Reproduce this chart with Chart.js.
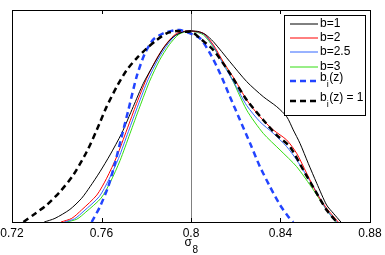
<!DOCTYPE html>
<html><head><meta charset="utf-8">
<script src="https://cdn.jsdelivr.net/npm/chart.js@4/dist/chart.umd.min.js"></script>
<style>html,body{margin:0;padding:0;background:#fff}#w{width:385px;height:255px}</style>
</head><body><div id="w"><canvas id="c"></canvas></div>
<script>
const xTicks = [0.72, 0.76, 0.80, 0.84, 0.88];
const xTitle = ['σ', '8'];
const seriesNames = ['b=1', 'b=2', 'b=2.5', 'b=3', 'b_i(z)', 'b_i(z) = 1'];

const b1X = [0.7344,0.7392,0.7459,0.7511,0.7549,0.7593,0.7638,0.7690,0.7742,0.7787,0.7832,0.7876,0.7921,0.7966,0.7990,0.8030,0.8063,0.8100,0.8174,0.8249,0.8323,0.8383,0.8428,0.8457,0.8487,0.8524,0.8562,0.8606,0.8636,0.8670];
const b1Y = [0,0.019,0.066,0.124,0.185,0.263,0.351,0.464,0.604,0.726,0.822,0.909,0.970,0.996,1.0,0.998,0.983,0.944,0.839,0.735,0.656,0.604,0.551,0.482,0.412,0.307,0.203,0.089,0.046,0];

const b2X = [0.7419,0.7467,0.7511,0.7579,0.7623,0.7668,0.7713,0.7757,0.7802,0.7847,0.7891,0.7936,0.7981,0.8003,0.8055,0.8100,0.8144,0.8197,0.8249,0.8308,0.8368,0.8428,0.8472,0.8517,0.8562,0.8606,0.8658];
const b2Y = [0,0.019,0.063,0.141,0.229,0.342,0.482,0.621,0.752,0.857,0.935,0.988,1.0,1.0,0.988,0.927,0.839,0.743,0.639,0.551,0.482,0.429,0.360,0.255,0.150,0.072,0];

const b25X = [0.7434,0.7480,0.7522,0.7590,0.7632,0.7676,0.7720,0.7764,0.7808,0.7853,0.7897,0.7941,0.7985,0.8005,0.8055,0.8100,0.8144,0.8197,0.8249,0.8308,0.8368,0.8428,0.8472,0.8547,0.8606,0.8651];
const b25Y = [0,0.017,0.058,0.133,0.220,0.333,0.473,0.613,0.745,0.852,0.932,0.986,1.0,1.0,0.985,0.920,0.826,0.720,0.610,0.525,0.464,0.394,0.325,0.185,0.063,0];

const b3X = [0.7444,0.7490,0.7530,0.7598,0.7640,0.7683,0.7727,0.7771,0.7815,0.7859,0.7903,0.7946,0.7990,0.8010,0.8055,0.8100,0.8174,0.8249,0.8323,0.8398,0.8472,0.8547,0.8606,0.8648];
const b3Y = [0,0.015,0.052,0.125,0.210,0.322,0.462,0.603,0.737,0.846,0.928,0.983,1.0,0.998,0.980,0.915,0.770,0.586,0.464,0.377,0.290,0.168,0.063,0];

const biX = [0.7556,0.7593,0.7630,0.7660,0.7690,0.7720,0.7757,0.7794,0.7832,0.7876,0.7921,0.7950,0.7990,0.8040,0.8085,0.8130,0.8174,0.8219,0.8264,0.8308,0.8353,0.8398,0.8435,0.8457];
const biY = [0,0.080,0.185,0.307,0.447,0.586,0.761,0.883,0.956,0.988,1.003,1.005,0.990,0.962,0.883,0.778,0.656,0.534,0.412,0.290,0.185,0.089,0.028,0];

const bi1X = [0.7251,0.7295,0.7355,0.7415,0.7474,0.7534,0.7579,0.7623,0.7668,0.7713,0.7757,0.7802,0.7847,0.7891,0.7936,0.7980,0.8003,0.8040,0.8100,0.8174,0.8249,0.8323,0.8383,0.8442,0.8502,0.8562,0.8606,0.8651];
const bi1Y = [0,0.037,0.089,0.159,0.246,0.368,0.482,0.604,0.708,0.796,0.857,0.909,0.953,0.988,1.0,0.996,0.996,0.962,0.900,0.778,0.639,0.534,0.455,0.394,0.272,0.150,0.063,0];

function pts(xs, ys){ return xs.map((x,i)=>({x:x, y:ys[i]})); }

const styles = [
  {c:'#000000', w:1, d:[]},
  {c:'#ff0000', w:1, d:[]},
  {c:'#3366ff', w:1, d:[]},
  {c:'#33dd11', w:1, d:[]},
  {c:'#2244ff', w:2.5, d:[6,4]},
  {c:'#000000', w:2.5, d:[6,4]}
];
const allData = [[b1X,b1Y],[b2X,b2Y],[b25X,b25Y],[b3X,b3Y],[biX,biY],[bi1X,bi1Y]];
const drawOrder = [5,4,0,1,2,3];
const datasets = drawOrder.map(i => ({
  label: seriesNames[i],
  data: pts(allData[i][0], allData[i][1]),
  borderColor: styles[i].c,
  borderWidth: styles[i].w,
  borderDash: styles[i].d,
  pointRadius: 0,
  tension: 0.25,
  fill: false
}));

const FONT = '"Liberation Sans", Arial, sans-serif';

const framePlugin = {
  id: 'frame',
  afterDatasetsDraw(chart){
    const {ctx, chartArea:a, scales:{x}} = chart;
    ctx.save();
    ctx.strokeStyle = '#000'; ctx.lineWidth = 1;
    ctx.strokeRect(Math.round(a.left)+0.5, Math.round(a.top)+0.5, Math.round(a.right-a.left), Math.round(a.bottom-a.top));
    xTicks.forEach(t => {
      const px = Math.round(x.getPixelForValue(t))+0.5;
      ctx.beginPath();
      ctx.moveTo(px, a.bottom); ctx.lineTo(px, a.bottom-4);
      ctx.moveTo(px, a.top); ctx.lineTo(px, a.top+4);
      ctx.stroke();
    });
    // x-axis title with subscript
    ctx.fillStyle = '#000';
    ctx.textBaseline = 'alphabetic';
    ctx.font = '12px ' + FONT;
    const w1 = ctx.measureText(xTitle[0]).width;
    ctx.font = '10px ' + FONT;
    const w2 = ctx.measureText(xTitle[1]).width;
    const cx = (a.left + a.right) / 2;
    let tx = cx - (w1 + w2) / 2;
    ctx.font = '12px ' + FONT;
    ctx.fillText(xTitle[0], tx, 245.5);
    ctx.font = '10px ' + FONT;
    ctx.fillText(xTitle[1], tx + w1 + 0.5, 253);
    // legend
    const lx = 284.5, ly = 15.5, lw = 81, lh = 100;
    ctx.fillStyle = '#fff';
    ctx.fillRect(lx, ly, lw, lh);
    ctx.strokeRect(lx, ly, lw, lh);
    const rows = [24, 38, 52, 67, 81, 101];
    ctx.textBaseline = 'middle';
    for (let i = 0; i < 6; i++) {
      const y = rows[i];
      ctx.beginPath();
      ctx.strokeStyle = styles[i].c;
      ctx.lineWidth = styles[i].w;
      ctx.setLineDash(styles[i].d);
      ctx.moveTo(290, y); ctx.lineTo(318, y);
      ctx.stroke();
      ctx.setLineDash([]);
      ctx.fillStyle = '#000';
      const name = seriesNames[i];
      if (name.startsWith('b_i')) {
        let px = 320;
        ctx.font = '12px ' + FONT;
        ctx.fillText('b', px, y-3); px += ctx.measureText('b').width;
        ctx.font = '9px ' + FONT;
        ctx.fillText('i', px, y+4); px += ctx.measureText('i').width + 0.5;
        ctx.font = '12px ' + FONT;
        ctx.fillText(name.slice(3), px, y-3);
      } else {
        ctx.font = '12px ' + FONT;
        ctx.fillText(name, 320, y);
      }
    }
    ctx.restore();
  }
};

new Chart(document.getElementById('c'), {
  type: 'line',
  data: { datasets },
  options: {
    responsive: true,
    maintainAspectRatio: false,
    animation: false,
    layout: { padding: { left: 12, right: 15, top: 10, bottom: 0 } },
    plugins: { legend: { display: false }, tooltip: { enabled: false } },
    scales: {
      x: {
        type: 'linear', min: 0.72, max: 0.88,
        afterBuildTicks(s){ s.ticks = xTicks.map(v => ({value: v})); },
        afterFit(s){ s.height = 33; s.paddingLeft = 0; s.paddingRight = 0; },
        grid: {
          drawTicks: false,
          color: c => (c.tick && Math.abs(c.tick.value - 0.8) < 1e-9) ? '#808080' : 'rgba(0,0,0,0)',
          lineWidth: 1
        },
        border: { display: false },
        ticks: {
          color: '#000', padding: 4, maxRotation: 0,
          font: { family: FONT, size: 12 },
          callback: v => String(+v.toFixed(2))
        },
        title: { display: false }
      },
      y: { display: false, min: 0, max: 1.11 }
    }
  },
  plugins: [framePlugin]
});
</script>
</body></html>
